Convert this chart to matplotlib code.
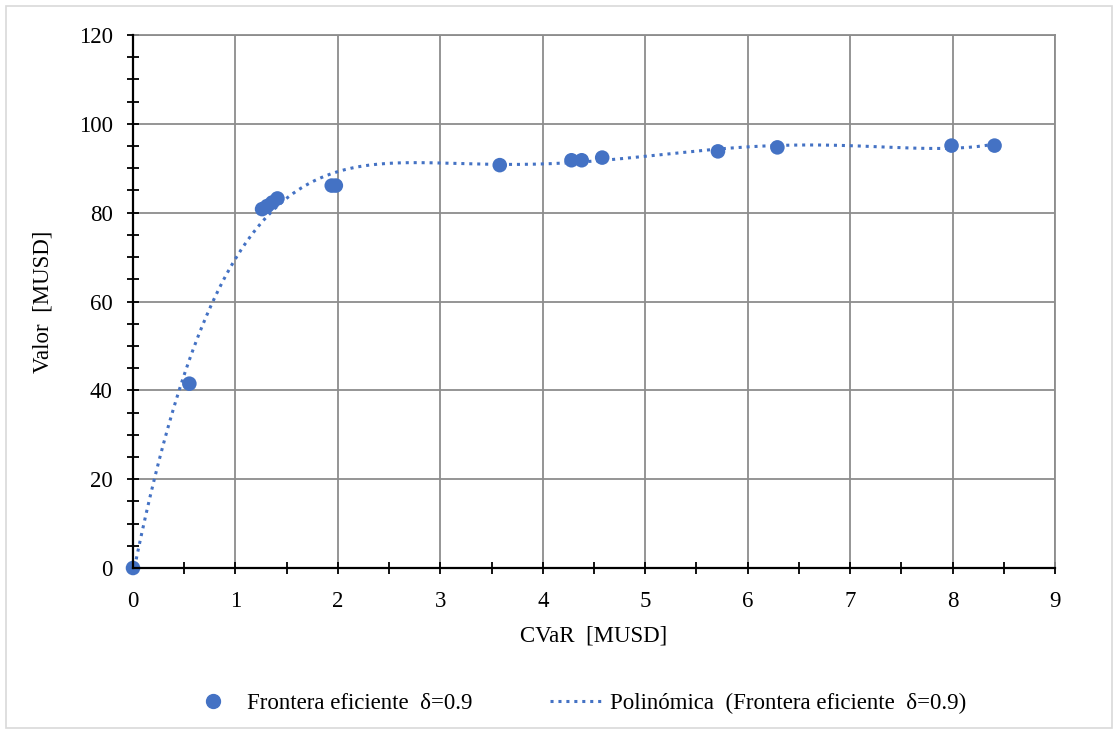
import numpy as np
import matplotlib.pyplot as plt
from matplotlib.ticker import MultipleLocator
from matplotlib.lines import Line2D
from matplotlib.patches import Rectangle

# Frontera eficiente (delta = 0.9)
cvar = [0.0, 0.55, 1.26, 1.31, 1.36, 1.41, 1.94, 1.98, 3.58,
        4.28, 4.38, 4.58, 5.71, 6.29, 7.99, 8.41]
valor = [0.0, 41.5, 80.8, 81.5, 82.3, 83.2, 86.1, 86.1, 90.7,
         91.8, 91.8, 92.4, 93.8, 94.7, 95.1, 95.1]
POLY_ORDER = 6

BLUE = '#4472C4'
GRID = '#8c8c8c'
FS = 16.5

plt.rcParams['font.family'] = ['Liberation Serif', 'DejaVu Serif']

fig = plt.figure(figsize=(11.18, 7.34), dpi=100)
ax = fig.add_axes([133 / 1118, 1 - 568 / 734, (1055 - 133) / 1118, (568 - 35) / 734])

# tendencia polinómica ajustada a los puntos
coef = np.polyfit(cvar, valor, POLY_ORDER)
xs = np.linspace(min(cvar), max(cvar), 400)
ax.plot(xs, np.polyval(coef, xs), color=BLUE, linewidth=2.2,
        linestyle=(0, (1, 1.6)), zorder=3)
ax.scatter(cvar, valor, s=110, color=BLUE, edgecolors='none', zorder=4, clip_on=False)

ax.set_xlim(0, 9)
ax.set_ylim(0, 120)
ax.xaxis.set_major_locator(MultipleLocator(1))
ax.xaxis.set_minor_locator(MultipleLocator(0.5))
ax.yaxis.set_major_locator(MultipleLocator(20))
ax.yaxis.set_minor_locator(MultipleLocator(5))
ax.tick_params(which='both', direction='inout', color='black', width=1.3)
ax.tick_params(which='major', length=9, labelsize=FS)
ax.tick_params(which='minor', length=9)
ax.tick_params(axis='x', which='major', pad=12)
ax.tick_params(axis='y', which='major', pad=10)
ax.grid(True, which='major', color=GRID, linewidth=1.3)
ax.set_axisbelow(True)

for side in ['top', 'right']:
    ax.spines[side].set_color(GRID)
    ax.spines[side].set_linewidth(1.3)
for side in ['left', 'bottom']:
    ax.spines[side].set_color('black')
    ax.spines[side].set_linewidth(1.6)
    ax.spines[side].set_zorder(5)

ax.set_xlabel('CVaR  [MUSD]', fontsize=FS, labelpad=10)
ax.set_ylabel('Valor  [MUSD]', fontsize=FS, labelpad=18)

handles = [
    Line2D([], [], marker='o', linestyle='none', color=BLUE, markersize=10),
    Line2D([], [], color=BLUE, linewidth=2.2, linestyle=(0, (1, 1.6))),
]
labels = ['Frontera eficiente  δ=0.9', 'Polinómica  (Frontera eficiente  δ=0.9)']
fig.legend(handles, labels, loc='center', bbox_to_anchor=(0.516, 1 - 703 / 734),
           ncol=2, frameon=False, fontsize=FS, columnspacing=3.4,
           handlelength=2.2, handletextpad=0.4)

# marco exterior del gráfico
fig.patches.append(Rectangle((6 / 1118, 6 / 734), 1 - 12 / 1118, 1 - 12 / 734,
                             transform=fig.transFigure, fill=False,
                             edgecolor='#d9d9d9', linewidth=1.2))

fig.savefig('out.png', dpi=100)
